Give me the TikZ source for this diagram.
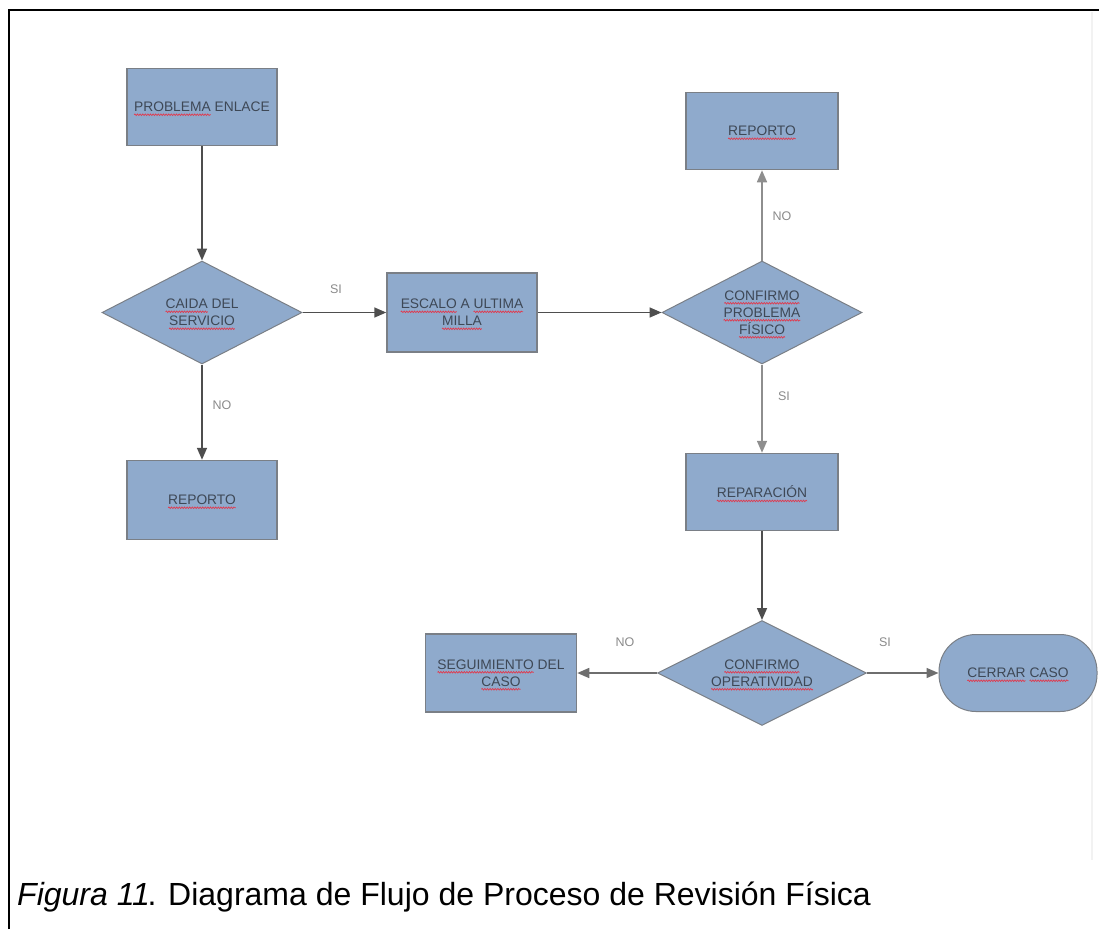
\documentclass[tikz,border=0pt]{standalone}
\usepackage{fontspec}
\setmainfont{Liberation Sans}
\usetikzlibrary{shapes.geometric,arrows.meta,decorations.pathmorphing}

\definecolor{boxfill}{HTML}{8FAACC}
\definecolor{boxline}{HTML}{7A7F86}
\definecolor{ink}{HTML}{3E4856}
\definecolor{arrowdark}{HTML}{4E4E4E}
\definecolor{arrowmid}{HTML}{6E6E6E}
\definecolor{arrowlight}{HTML}{8E8E8E}
\definecolor{lblgray}{HTML}{8A8A8A}
\definecolor{spell}{HTML}{E03A4E}

% red wavy spell-check underline
\newsavebox\sqbox
\newcommand\sq[1]{\sbox\sqbox{#1}\rlap{\tikz[overlay,baseline=0pt]\draw[spell, line width=0.7pt,
  sharp corners, decorate, decoration={snake, amplitude=0.8pt, segment length=2.6pt}]
  (0pt,-3pt) -- (\wd\sqbox,-3pt);}\usebox\sqbox}

\newcommand\boxfont{\fontsize{13.8}{17}\selectfont}
\newcommand\lblfont{\fontsize{12.5}{15}\selectfont}

\tikzset{
  box/.style={draw=boxline, fill=boxfill, line width=1.5pt, minimum width=150pt,
    minimum height=77pt, inner sep=2pt, align=center, text=ink, font=\boxfont},
  decision/.style={diamond, shape aspect=1.94, draw=boxline, fill=boxfill, line width=1pt,
    minimum width=200pt, minimum height=103pt, inner sep=0pt, align=center,
    text=ink, font=\boxfont},
  flow/.style={draw=arrowdark, line width=1.6pt, -{Triangle[length=12pt,width=10pt]}},
  flowmid/.style={flow, draw=arrowmid},
  flowlight/.style={flow, draw=arrowlight},
  lbl/.style={text=lblgray, font=\lblfont}
}

\begin{document}
\begin{tikzpicture}[x=1pt, y=-1pt]
\useasboundingbox (0,0) rectangle (1099,929);

% page frame
\draw[line width=2.5pt] (9,929) -- (9,10) -- (1099,10);
\draw[black!5, line width=1.5pt] (1092,12) -- (1092,860);

% nodes
\node[box] (p1) at (202,107) {\sq{PROBLEMA} ENLACE};
\node[decision] (d1) at (202,312.5) {\sq{CAIDA} DEL\\\sq{SERVICIO}};
\node[box, minimum height=79pt] (r1) at (202,500) {\sq{REPORTO}};
\node[box, minimum height=79pt] (e1) at (462,312.5) {\sq{ESCALO} A \sq{ULTIMA}\\\sq{MILLA}};
\node[decision] (d2) at (762,312.5) {\sq{CONFIRMO}\\\sq{PROBLEMA}\\\sq{FÍSICO}};
\node[box, minimum width=152pt] (r2) at (762,131) {\sq{REPORTO}};
\node[box, minimum width=152pt] (rep) at (762,492) {\sq{REPARACIÓN}};
\node[decision, minimum width=209pt, minimum height=105pt] (d3) at (762,673) {\sq{CONFIRMO}\\\sq{OPERATIVIDAD}};
\node[box, minimum width=151pt, minimum height=78pt] (seg) at (501,673) {\sq{SEGUIMIENTO} DEL\\\sq{CASO}};
\node[box, minimum width=158pt, rounded corners=37pt, line width=1pt] (cer) at (1018,673) {\sq{CERRAR} \sq{CASO}};

% connectors
\draw[flow] (p1.south) -- (d1.north);
\draw[flow] (d1.east) -- (e1.west);
\draw[flow] (d1.south) -- (r1.north);
\draw[flow] (e1.east) -- (d2.west);
\draw[flowlight] (d2.north) -- (r2.south);
\draw[flowlight] (d2.south) -- (rep.north);
\draw[flow] (rep.south) -- (d3.north);
\draw[flowmid] (d3.west) -- (seg.east);
\draw[flowmid] (d3.east) -- (cer.west);

% branch labels
\node[lbl] (l1) at (336,289) {SI};
\node[lbl] (l2) at (222,405) {NO};
\node[lbl] (l3) at (782,216) {NO};
\node[lbl] (l4) at (784,396) {SI};
\node[lbl] (l5) at (625,642) {NO};
\node[lbl] (l6) at (885,642) {SI};

% caption
\node[anchor=base west, inner sep=0pt, font=\fontsize{32}{36}\selectfont] (cap) at (17,905)
  {{\itshape Figura 11}\kern-2.5pt. Diagrama de Flujo de Proceso de Revisión Física};
\end{tikzpicture}
\end{document}
